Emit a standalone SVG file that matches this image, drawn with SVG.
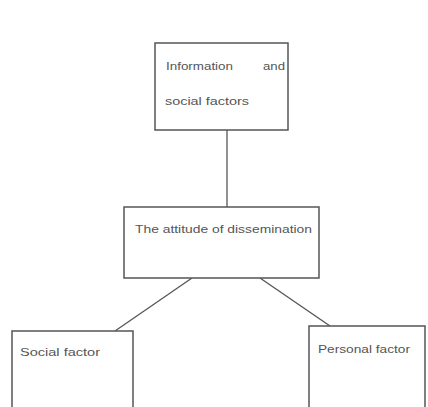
<svg xmlns="http://www.w3.org/2000/svg" width="428" height="407" viewBox="0 0 428 407">
<style>
.box{fill:#fff;stroke:#555;stroke-width:1.5}
.lbl{font-family:"Liberation Sans",Arial,sans-serif;font-size:10.5px;fill:#555}
.con{stroke:#555;stroke-width:1.3;fill:none}
</style>
<rect width="428" height="407" fill="#fff"/>
<g id="connectors">
<line class="con" x1="227" y1="130" x2="227" y2="207"/>
<line class="con" x1="192" y1="278" x2="115" y2="331"/>
<line class="con" x1="260" y1="278" x2="330" y2="326"/>
</g>
<g id="info">
<rect class="box" x="155" y="43" width="133" height="87"/>
<text class="lbl" x="166" y="70" textLength="67" lengthAdjust="spacingAndGlyphs">Information</text>
<text class="lbl" x="263" y="70" textLength="22" lengthAdjust="spacingAndGlyphs">and</text>
<text class="lbl" x="165" y="105" textLength="84" lengthAdjust="spacingAndGlyphs">social factors</text>
</g>
<g id="attitude">
<rect class="box" x="124" y="207" width="195" height="71"/>
<text class="lbl" x="135" y="233" textLength="177" lengthAdjust="spacingAndGlyphs">The attitude of dissemination</text>
</g>
<g id="social">
<rect class="box" x="12" y="331" width="121" height="90"/>
<text class="lbl" x="20" y="356" textLength="80" lengthAdjust="spacingAndGlyphs">Social  factor</text>
</g>
<g id="personal">
<rect class="box" x="309" y="326" width="116" height="95"/>
<text class="lbl" x="318" y="353" textLength="92" lengthAdjust="spacingAndGlyphs">Personal  factor</text>
</g>
</svg>
